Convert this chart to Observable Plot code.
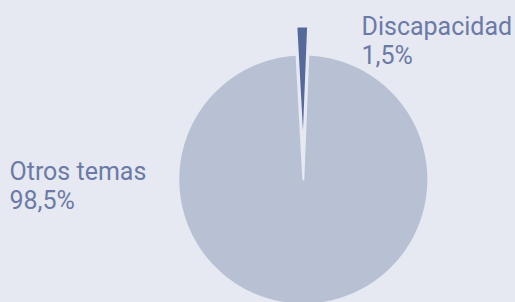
<!DOCTYPE html>
<html>
<head>
<meta charset="utf-8">
<script src="https://cdn.jsdelivr.net/npm/d3@7"></script>
<script src="https://cdn.jsdelivr.net/npm/@observablehq/plot@0.6"></script>
<style>
  html, body { margin: 0; padding: 0; background: #e6e9f1; }
  #chart svg { display: block; }
</style>
</head>
<body>
<div id="chart"></div>
<script>
// Data
const categories = ["Discapacidad", "Otros temas"];
const values = [1.5, 98.5];
const valueLabels = ["1,5%", "98,5%"];
const colors = ["#56699b", "#b8c1d3"];

// Layout (pixels)
const W = 515, H = 302;
const cx = 302.8, cy = 179, R = 125;
const explode = [28, 0];
const startDeg = -3.1;
const labelPos = [{x: 361, y: 14}, {x: 9, y: 158.5}];

const arcs = d3.pie().sort(null)
  .startAngle(startDeg * Math.PI / 180)
  .endAngle(startDeg * Math.PI / 180 + 2 * Math.PI)(values);

const pts = [];
arcs.forEach((a, i) => {
  const mid = (a.startAngle + a.endAngle) / 2;
  const ox = cx + explode[i] * Math.sin(mid);
  const oy = cy - explode[i] * Math.cos(mid);
  const n = Math.max(4, Math.ceil((a.endAngle - a.startAngle) / (Math.PI / 360)));
  pts.push({k: categories[i], x: ox, y: oy});
  for (let j = 0; j <= n; j++) {
    const t = a.startAngle + (a.endAngle - a.startAngle) * j / n;
    pts.push({k: categories[i], x: ox + R * Math.sin(t), y: oy - R * Math.cos(t)});
  }
  pts.push({k: categories[i], x: ox, y: oy});
});

const labels = categories.map((c, i) => ({
  text: c + "\n" + valueLabels[i], x: labelPos[i].x, y: labelPos[i].y
}));

const chart = Plot.plot({
  width: W, height: H,
  margin: 0,
  style: {background: "#e6e9f1"},
  x: {domain: [0, W], range: [0, W], axis: null},
  y: {domain: [0, H], range: [0, H], axis: null},
  color: {domain: categories, range: colors},
  marks: [
    Plot.line(pts, {x: "x", y: "y", z: "k", fill: "k", stroke: "#e6e9f1", strokeWidth: 2, curve: "linear-closed"}),
    Plot.text(labels, {x: "x", y: "y", text: "text", textAnchor: "start", lineAnchor: "top",
      lineHeight: 1.16, fontSize: 25, fontFamily: "Roboto", fill: "#6b7aa6"})
  ]
});
document.getElementById("chart").appendChild(chart);
</script>
</body>
</html>
